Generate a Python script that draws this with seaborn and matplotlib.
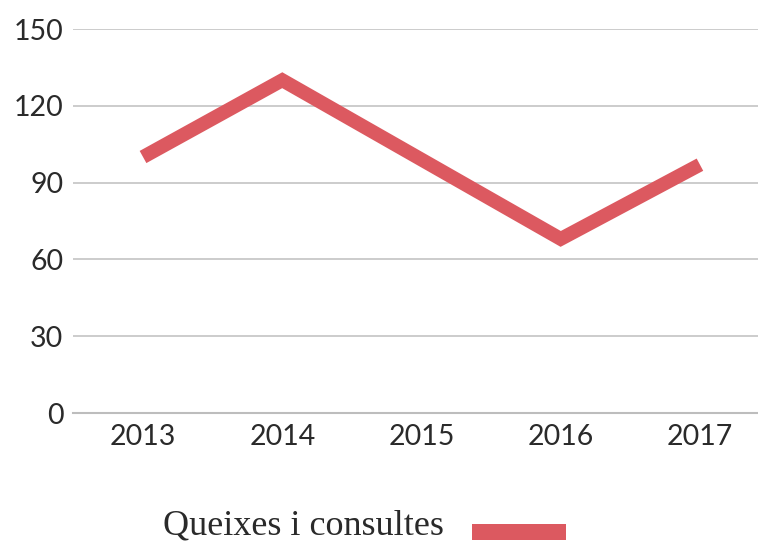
import matplotlib
matplotlib.use("Agg")
import matplotlib.pyplot as plt
from matplotlib.patches import Rectangle
import seaborn as sns
import pandas as pd

years = [2013, 2014, 2015, 2016, 2017]
values = [100, 130, 99, 68, 97]
series_name = "Queixes i consultes"
y_ticks = [0, 30, 60, 90, 120, 150]

LINE_COLOR = "#dc5960"
TEXT_COLOR = "#2a2a2a"
GRID_COLOR = "#c8c8c8"

sns.set_style("white")
plt.rcParams["font.family"] = ["Lato", "DejaVu Sans"]

df = pd.DataFrame({"year": years, "value": values})

W, H = 758, 543
fig = plt.figure(figsize=(W / 100, H / 100), dpi=100)
ax = fig.add_axes([73 / W, 1 - 413 / H, 1 - 73 / W, (413 - 29) / H])

sns.lineplot(data=df, x="year", y="value", ax=ax, color=LINE_COLOR, linewidth=10,
             solid_joinstyle="miter", solid_capstyle="butt", legend=False)

ax.set_xlim(2012.497, 2017.417)
ax.set_ylim(0, 150)
ax.set_yticks(y_ticks)
ax.set_yticklabels([str(t) for t in y_ticks])
ax.set_xticks(years)
ax.set_xticklabels([str(y) for y in years])
ax.set_xlabel("")
ax.set_ylabel("")

ax.yaxis.grid(True, color=GRID_COLOR, linewidth=1.3)
ax.set_axisbelow(True)
for s in ["top", "right", "left"]:
    ax.spines[s].set_visible(False)
ax.spines["bottom"].set_color("#bdbdbd")
ax.spines["bottom"].set_linewidth(1.5)

ax.tick_params(axis="y", length=0, pad=7, labelsize=20.5, labelcolor=TEXT_COLOR)
ax.tick_params(axis="x", direction="in", length=9, width=1, color="#bdbdbd",
               pad=8, labelsize=20.5, labelcolor=TEXT_COLOR)

# legend: label followed by a swatch of the series colour
fig.text(163 / W, 1 - 535 / H, series_name, ha="left", va="baseline",
         fontsize=26, color=TEXT_COLOR, family=["Liberation Serif", "DejaVu Serif"])
fig.add_artist(Rectangle((472 / W, 1 - 540 / H), 94 / W, 16 / H,
                         transform=fig.transFigure, facecolor=LINE_COLOR, edgecolor="none"))

fig.savefig("out.png", dpi=100)
